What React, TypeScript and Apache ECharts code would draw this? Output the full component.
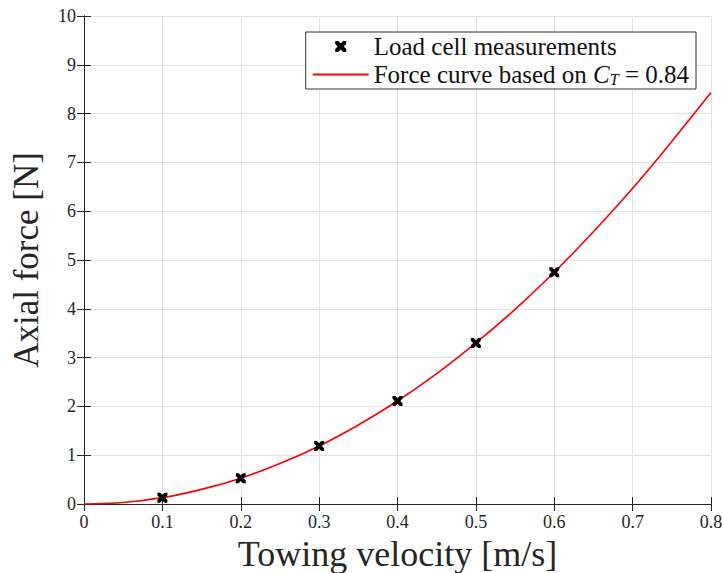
import React, { useEffect, useRef } from "react";
import * as echarts from "echarts";

const measVelocity = [0.1, 0.2, 0.3, 0.4, 0.5, 0.6];
const measForce = [0.13, 0.53, 1.19, 2.11, 3.3, 4.75];

const curveVelocity = [0, 0.05, 0.1, 0.15, 0.2, 0.25, 0.3, 0.35, 0.4, 0.45, 0.5, 0.55, 0.6, 0.65, 0.7, 0.75, 0.8];
const curveForce = [0, 0.03, 0.13, 0.3, 0.53, 0.83, 1.19, 1.62, 2.11, 2.67, 3.3, 3.99, 4.75, 5.58, 6.47, 7.43, 8.43];

const xTicks = ["0", "0.1", "0.2", "0.3", "0.4", "0.5", "0.6", "0.7", "0.8"];

const FONT = "Liberation Serif";
const XMARK = "path://M0,0 L2.8,0 L5,2.2 L7.2,0 L10,0 L10,2.8 L7.8,5 L10,7.2 L10,10 L7.2,10 L5,7.8 L2.8,10 L0,10 L0,7.2 L2.2,5 L0,2.8 Z";

export default function App() {
  const ref = useRef<HTMLDivElement>(null);
  useEffect(() => {
    if (!ref.current) return;
    const chart = echarts.init(ref.current, null, { renderer: "svg" });
    const axisLine = { show: true, lineStyle: { color: "#262626", width: 1 } };
    const tick = { show: true, inside: true, length: 7, lineStyle: { color: "#262626" } };
    chart.setOption({
      animation: false,
      backgroundColor: "#ffffff",
      textStyle: { fontFamily: FONT },
      grid: { left: 84, right: 12, top: 16, bottom: 69, containLabel: false, outerBoundsMode: "none" },
      legend: {
        show: true,
        right: 27,
        top: 32,
        orient: "vertical",
        backgroundColor: "#ffffff",
        borderColor: "#333333",
        borderWidth: 1,
        borderRadius: 0,
        padding: [2, 7, 2, 6],
        itemGap: 3,
        itemWidth: 56,
        itemHeight: 11,
        itemStyle: { borderWidth: 0 },
        textStyle: {
          fontFamily: FONT,
          fontSize: 25,
          color: "#111",
          rich: {
            i: { fontFamily: FONT, fontStyle: "italic", fontSize: 25, color: "#111" },
            s: { fontFamily: FONT, fontStyle: "italic", fontSize: 16, color: "#111", verticalAlign: "bottom", padding: [9, 0, 0, 0] },
            n: { fontFamily: FONT, fontSize: 25, color: "#111" },
          },
        },
        formatter: (name: string) =>
          name.startsWith("Force") ? "{n|Force curve based on }{i|C}{s|T}{n| = 0.84}" : "{n|" + name + "}",
        data: [
          { name: "Load cell measurements", icon: XMARK, itemStyle: { color: "#000", opacity: 1 } },
          { name: "Force curve based on C_T = 0.84", itemStyle: { opacity: 0 }, lineStyle: { color: "#ff0000", width: 2 } },
        ],
      },
      xAxis: [
        {
          type: "value",
          min: 0,
          max: 0.8,
          interval: 0.1,
          name: "Towing velocity [m/s]",
          nameLocation: "middle",
          nameGap: 29,
          nameTextStyle: { fontFamily: FONT, fontSize: 36, color: "#262626" },
          axisLine,
          axisTick: tick,
          axisLabel: {
            fontFamily: FONT,
            fontSize: 18,
            color: "#262626",
            margin: 9,
            formatter: (v: number) => xTicks[Math.round(v * 10)] ?? "",
          },
          splitLine: { show: true, lineStyle: { color: "#e3e3e3", width: 1 } },
        },
        {
          type: "value",
          position: "top",
          min: 0,
          max: 0.8,
          interval: 0.1,
          axisLine,
          axisTick: tick,
          axisLabel: { show: false },
          splitLine: { show: false },
        },
      ],
      yAxis: [
        {
          type: "value",
          min: 0,
          max: 10,
          interval: 1,
          name: "Axial force [N]",
          nameLocation: "middle",
          nameGap: 40,
          nameTextStyle: { fontFamily: FONT, fontSize: 35, color: "#262626" },
          axisLine,
          axisTick: tick,
          axisLabel: { fontFamily: FONT, fontSize: 18, color: "#262626", margin: 8 },
          splitLine: { show: true, lineStyle: { color: "#e3e3e3", width: 1 } },
        },
        {
          type: "value",
          position: "right",
          min: 0,
          max: 10,
          interval: 1,
          axisLine,
          axisTick: tick,
          axisLabel: { show: false },
          splitLine: { show: false },
        },
      ],
      series: [
        {
          name: "Force curve based on C_T = 0.84",
          type: "line",
          data: curveVelocity.map((v, i) => [v, curveForce[i]]),
          smooth: 0.3,
          showSymbol: false,
          symbol: "none",
          lineStyle: { color: "#ff0000", width: 1.6 },
          itemStyle: { color: "#ff0000" },
          z: 2,
        },
        {
          name: "Load cell measurements",
          type: "scatter",
          data: measVelocity.map((v, i) => [v, measForce[i]]),
          symbol: XMARK,
          symbolSize: 10,
          itemStyle: { color: "#000000", opacity: 1 },
          z: 3,
        },
      ],
    });
    return () => chart.dispose();
  }, []);
  return <div ref={ref} style={{ width: 723, height: 573, position: "absolute", left: 0, top: 0 }} />;
}
